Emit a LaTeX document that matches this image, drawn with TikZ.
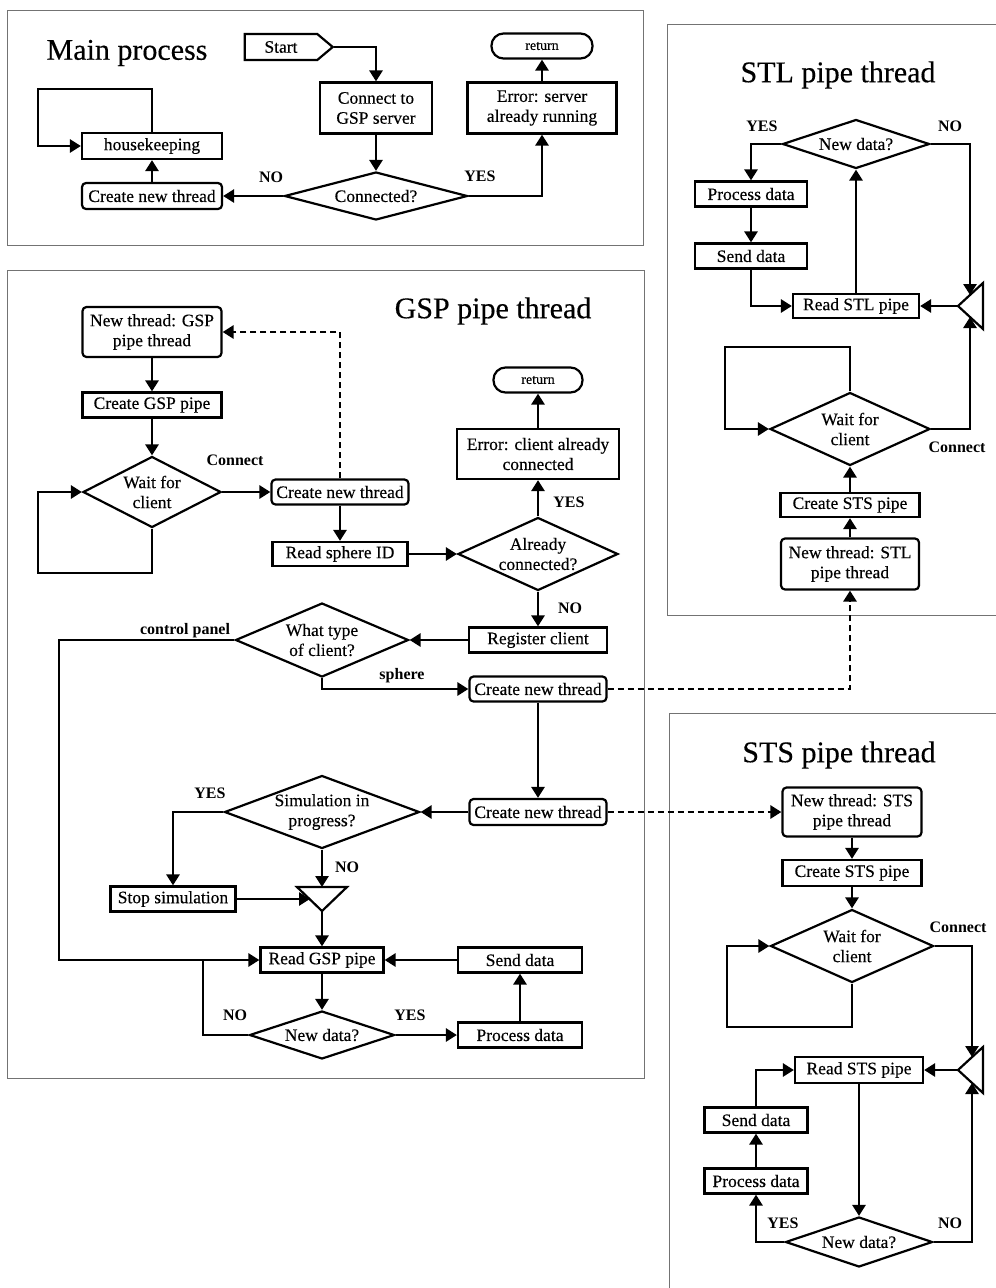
\documentclass[tikz,border=0pt]{standalone}
\usepackage{fontspec}
\setmainfont{Liberation Serif}
\newfontfamily\heavyserif{Liberation Serif}[FakeBold=0.35]
\usetikzlibrary{shapes.geometric,shapes.symbols,arrows.meta}

\begin{document}
\begin{tikzpicture}[x=1pt,y=-1pt,
  every node/.style={font=\heavyserif\fontsize{17.5}{20}\selectfont},
  panel/.style={draw=black!55, line width=0.9pt},
  box/.style={draw, line width=2.2pt, rectangle, inner sep=0pt, align=center},
  rbox/.style={box, rounded corners=4pt},
  term/.style={box, rounded corners=12pt, font=\heavyserif\fontsize{14}{16}\selectfont},
  dia/.style={draw, line width=2.2pt, diamond, inner sep=0pt},
  dlabel/.style={align=center, inner sep=0pt, font=\heavyserif\fontsize{17.5}{20}\selectfont},
  lbl/.style={font=\fontsize{16}{18}\selectfont\bfseries, inner sep=0pt},
  title/.style={font=\heavyserif\fontsize{30}{34}\selectfont, inner sep=0pt},
  arr/.style={line width=2.7pt, -{Triangle[length=11pt,width=13pt]}},
  ln/.style={line width=2.7pt},
  darr/.style={arr, dash pattern=on 6pt off 4pt},
  tri/.style={draw, line width=2.2pt, line join=miter},
]
\useasboundingbox (0,0) rectangle (996,1288);
\clip (0,0) rectangle (996,1288);
\fill[white] (0,0) rectangle (996,1288);

% ---------- panels ----------
\draw[panel] (7,10) rectangle (643,245);
\draw[panel] (7,270) rectangle (644,1078);
\draw[panel] (667,24) rectangle (1010,615);
\draw[panel] (669,713) rectangle (1010,1300);

% ---------- main process ----------
\node[title] (tMain) at (127,53) {Main process};
\node[draw, line width=2.2pt, signal, signal to=east, signal pointer angle=80,
      minimum height=26, minimum width=88, inner sep=0pt] (start) at (281,47) {Start};
\node[box, minimum width=112, minimum height=51] (conn) at (376,108) {Connect to\\GSP server};
\node[box, minimum width=149, minimum height=51] (errS) at (542,108) {Error: server\\already running};
\node[term, minimum width=101, minimum height=25] (retM) at (542,46) {return};
\node[dia, minimum width=183, minimum height=48, label={[dlabel]center:Connected?}] (conq) at (376,196) {};
\node[rbox, minimum width=140, minimum height=26] (cnt0) at (152,196) {Create new thread};
\node[box, minimum width=140, minimum height=26] (hk) at (152,146) {housekeeping};
\node[lbl] (noM) at (271,177) {NO};
\node[lbl] (yesM) at (480,176) {YES};

\draw[arr] (start.east) -| (conn.north);
\draw[arr] (conn.south) -- (conq.north);
\draw[arr] (conq.west) -- (cnt0.east);
\draw[arr] (conq.east) -| (errS.south);
\draw[arr] (errS.north) -- (retM.south);
\draw[arr] (cnt0.north) -- (hk.south);
\draw[arr] (hk.north) |- (38,89) |- (hk.west);

% ---------- GSP pipe thread ----------
\node[title] (tGSP) at (493,311) {GSP pipe thread};
\node[rbox, minimum width=139, minimum height=50] (ntG) at (152,332) {New thread: GSP\\pipe thread};
\node[box, minimum width=139, minimum height=25] (cgp) at (152,405) {Create GSP pipe};
\node[dia, minimum width=138, minimum height=71, label={[dlabel]center:Wait for\\client}] (wfc) at (152,492) {};
\node[rbox, minimum width=137, minimum height=25] (cnt1) at (340,492) {Create new thread};
\node[box, minimum width=135, minimum height=24] (rsid) at (340,554) {Read sphere ID};
\node[dia, minimum width=160, minimum height=73, label={[dlabel]center:Already\\connected?}] (alr) at (538,554) {};
\node[box, minimum width=162, minimum height=50] (errC) at (538,454) {Error: client already\\connected};
\node[term, minimum width=89, minimum height=25] (retG) at (538,380) {return};
\node[box, minimum width=138, minimum height=25] (reg) at (538,640) {Register client};
\node[dia, minimum width=173, minimum height=74, label={[dlabel]center:What type\\of client?}] (wtc) at (322,640) {};
\node[rbox, minimum width=137, minimum height=25] (cnt2) at (538,689) {Create new thread};
\node[rbox, minimum width=137, minimum height=26] (cnt3) at (538,812) {Create new thread};
\node[dia, minimum width=195, minimum height=73, label={[dlabel]center:Simulation in\\progress?}] (sim) at (322,812) {};
\node[box, minimum width=125, minimum height=25] (stop) at (173,899) {Stop simulation};
\node[box, minimum width=123, minimum height=25] (rgp) at (322,960) {Read GSP pipe};
\node[box, minimum width=124, minimum height=25] (sdG) at (520,960) {Send data};
\node[dia, minimum width=145, minimum height=48, label={[dlabel]center:New data?}] (ndG) at (322,1035) {};
\node[box, minimum width=124, minimum height=25] (pdG) at (520,1035) {Process data};

\draw[tri] (297,887) -- (347,887) -- (322,911) -- cycle;
\coordinate (mgT) at (322,887);
\coordinate (mgL) at (310,899);
\coordinate (mgB) at (322,911);
\coordinate (cpBend) at (59,960);
\coordinate (noJoin) at (203,960);

\node[lbl] (lConG) at (235,460) {Connect};
\node[lbl] (lYesA) at (569,502) {YES};
\node[lbl] (lNoA) at (570,608) {NO};
\node[lbl] (lCP) at (185,631) {control panel};
\node[lbl] (lSph) at (402,676) {sphere};
\node[lbl] (lYesS) at (210,793) {YES};
\node[lbl] (lNoS) at (347,867) {NO};
\node[lbl] (lNoN) at (235,1015) {NO};
\node[lbl] (lYesN) at (410,1015) {YES};

\draw[arr] (ntG.south) -- (cgp.north);
\draw[arr] (cgp.south) -- (wfc.north);
\draw[arr] (wfc.east) -- (cnt1.west);
\draw[arr] (wfc.south) |- (38,573) |- (wfc.west);
\draw[darr] (cnt1.north) |- (ntG.east);
\draw[arr] (cnt1.south) -- (rsid.north);
\draw[arr] (rsid.east) -- (alr.west);
\draw[arr] (alr.north) -- (errC.south);
\draw[arr] (errC.north) -- (retG.south);
\draw[arr] (alr.south) -- (reg.north);
\draw[arr] (reg.west) -- (wtc.east);
\draw[arr] (wtc.west) -| (cpBend) -- (rgp.west);
\draw[arr] (wtc.south) |- (cnt2.west);
\draw[arr] (cnt2.south) -- (cnt3.north);
\draw[arr] (cnt3.west) -- (sim.east);
\draw[arr] (sim.west) -| (stop.north);
\draw[arr] (sim.south) -- (mgT);
\draw[arr] (stop.east) -- (mgL);
\draw[arr] (mgB) -- (rgp.north);
\draw[arr] (sdG.west) -- (rgp.east);
\draw[arr] (rgp.south) -- (ndG.north);
\draw[ln] (ndG.west) -| (noJoin);
\draw[arr] (ndG.east) -- (pdG.west);
\draw[arr] (pdG.north) -- (sdG.south);

% ---------- STL pipe thread ----------
\node[title] (tSTL) at (838,75) {STL pipe thread};
\node[dia, minimum width=147, minimum height=49, label={[dlabel]center:New data?}] (ndL) at (856,144) {};
\node[box, minimum width=112, minimum height=25] (pdL) at (751,194) {Process data};
\node[box, minimum width=112, minimum height=25] (sdL) at (751,256) {Send data};
\node[box, minimum width=126, minimum height=24] (rsL) at (856,306) {Read STL pipe};
\node[dia, minimum width=160, minimum height=73, label={[dlabel]center:Wait for\\client}] (wfcL) at (850,429) {};
\node[box, minimum width=139, minimum height=24] (csL) at (850,505) {Create STS pipe};
\node[rbox, minimum width=138, minimum height=51] (ntL) at (850,564) {New thread: STL\\pipe thread};
\node[lbl] (lYesL) at (762,126) {YES};
\node[lbl] (lNoL) at (950,126) {NO};
\node[lbl] (lConL) at (957,447) {Connect};

\draw[tri] (983,283) -- (983,329) -- (958,306) -- cycle;
\coordinate (mLa) at (970,295);
\coordinate (mLb) at (970,317);
\coordinate (mLt) at (958,306);

\draw[arr] (ndL.west) -| (pdL.north);
\draw[arr] (pdL.south) -- (sdL.north);
\draw[arr] (sdL.south) |- (rsL.west);
\draw[arr] (rsL.north) -- (ndL.south);
\draw[arr] (ndL.east) -| (mLa);
\draw[arr] (wfcL.east) -| (mLb);
\draw[arr] (mLt) -- (rsL.east);
\draw[arr] (wfcL.north) |- (725,347) |- (wfcL.west);
\draw[arr] (csL.north) -- (wfcL.south);
\draw[arr] (ntL.north) -- (csL.south);
\draw[darr] (cnt2.east) -| (ntL.south);

% ---------- STS pipe thread ----------
\node[title] (tSTS) at (839,755) {STS pipe thread};
\node[rbox, minimum width=139, minimum height=49] (ntS) at (852,812) {New thread: STS\\pipe thread};
\node[box, minimum width=139, minimum height=26] (csS) at (852,873) {Create STS pipe};
\node[dia, minimum width=163, minimum height=73, label={[dlabel]center:Wait for\\client}] (wfcS) at (852,946) {};
\node[box, minimum width=128, minimum height=26] (rsS) at (859,1070) {Read STS pipe};
\node[box, minimum width=103, minimum height=25] (sdS) at (756,1120) {Send data};
\node[box, minimum width=103, minimum height=25] (pdS) at (756,1181) {Process data};
\node[dia, minimum width=147, minimum height=50, label={[dlabel]center:New data?}] (ndS) at (859,1242) {};
\node[lbl] (lConS) at (958,927) {Connect};
\node[lbl] (lYesSt) at (783,1223) {YES};
\node[lbl] (lNoSt) at (950,1223) {NO};

\draw[tri] (983,1047) -- (983,1093) -- (958,1070) -- cycle;
\coordinate (mSa) at (972,1057);
\coordinate (mSb) at (972,1083);
\coordinate (mSt) at (958,1070);

\draw[darr] (cnt3.east) -- (ntS.west);
\draw[arr] (ntS.south) -- (csS.north);
\draw[arr] (csS.south) -- (wfcS.north);
\draw[arr] (wfcS.south) |- (727,1027) |- (wfcS.west);
\draw[arr] (wfcS.east) -| (mSa);
\draw[arr] (mSt) -- (rsS.east);
\draw[arr] (rsS.south) -- (ndS.north);
\draw[arr] (ndS.west) -| (pdS.south);
\draw[arr] (pdS.north) -- (sdS.south);
\draw[arr] (sdS.north) |- (rsS.west);
\draw[arr] (ndS.east) -| (mSb);
\end{tikzpicture}
\end{document}
